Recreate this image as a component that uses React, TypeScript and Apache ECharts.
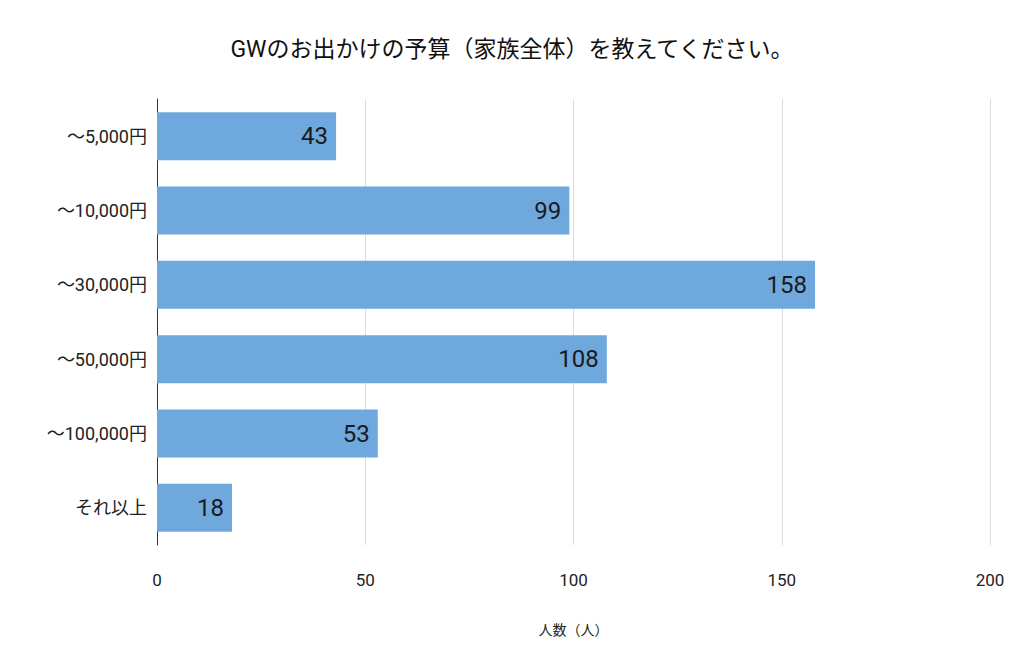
import React, { useEffect, useRef } from 'react';
import * as echarts from 'echarts';

const categories = ['～5,000円', '～10,000円', '～30,000円', '～50,000円', '～100,000円', 'それ以上'];
const counts = [43, 99, 158, 108, 53, 18];
const titleText = 'GWのお出かけの予算（家族全体）を教えてください。';
const axisName = '人数（人）';

const App: React.FC = () => {
  const chartRef = useRef<HTMLDivElement>(null);

  useEffect(() => {
    if (!chartRef.current) return;
    const chart = echarts.init(chartRef.current, undefined, { renderer: 'svg' });
    const font = 'Roboto, "Noto Sans CJK JP", sans-serif';

    chart.setOption({
      animation: false,
      textStyle: { fontFamily: font },
      title: {
        text: titleText,
        left: 'center',
        top: 25,
        textStyle: { fontSize: 23, fontWeight: 'normal', color: '#111', fontFamily: font },
      },
      grid: { left: 149, right: 26, top: 91, bottom: 118 },
      xAxis: {
        type: 'value',
        min: 0,
        max: 200,
        interval: 50,
        name: axisName,
        nameLocation: 'middle',
        nameGap: 78,
        nameTextStyle: { fontSize: 14, color: '#222' },
        axisLine: { show: false },
        axisTick: { show: false },
        axisLabel: { fontSize: 17, color: '#222', margin: 26 },
        splitLine: { lineStyle: { color: '#dcdcdc' } },
      },
      yAxis: {
        type: 'category',
        inverse: true,
        data: categories,
        axisLine: { show: true, lineStyle: { color: '#333' } },
        axisTick: { show: false },
        axisLabel: { fontSize: 18, color: '#222', margin: 10 },
      },
      series: [
        {
          type: 'bar',
          data: counts,
          barWidth: 48,
          itemStyle: { color: '#6fa8dc' },
          label: {
            show: true,
            position: 'insideRight',
            fontSize: 24,
            color: '#1a1a1a',
            distance: 8,
          },
        },
      ],
    });

    return () => {
      chart.dispose();
    };
  }, []);

  return <div ref={chartRef} style={{ width: 1008, height: 655 }} />;
};

export default App;
